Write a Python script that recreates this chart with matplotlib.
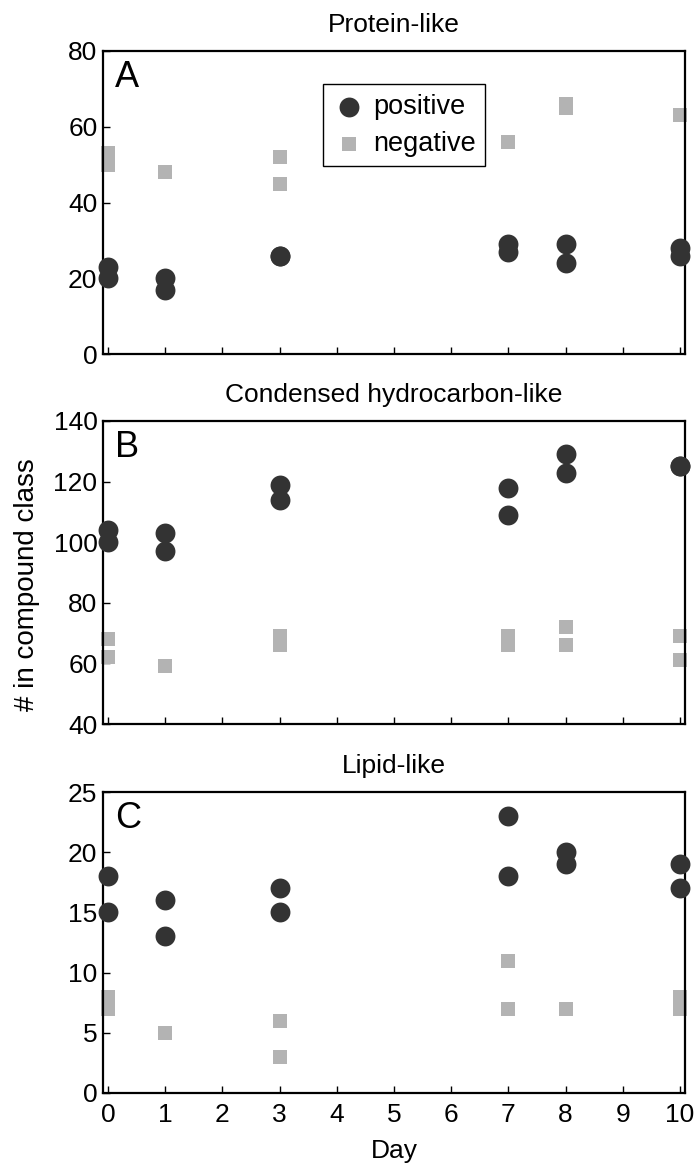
import matplotlib
matplotlib.use("Agg")
import matplotlib.pyplot as plt

plt.rcParams['font.family'] = ['Liberation Sans', 'DejaVu Sans']

days = [0, 1, 3, 7, 8, 10]

# Panel A: Protein-like (two replicates per day)
prot_pos_1 = [23, 20, 26, 29, 29, 28]
prot_pos_2 = [20, 17, 26, 27, 24, 26]
prot_neg_1 = [53, 48, 52, 56, 66, 63]
prot_neg_2 = [50, 48, 45, 56, 65, 63]

# Panel B: Condensed hydrocarbon-like
cond_pos_1 = [104, 103, 119, 118, 129, 125]
cond_pos_2 = [100, 97, 114, 109, 123, 125]
cond_neg_1 = [68, 59, 69, 69, 72, 69]
cond_neg_2 = [62, 59, 66, 66, 66, 61]

# Panel C: Lipid-like
lip_pos_1 = [18, 16, 17, 23, 20, 19]
lip_pos_2 = [15, 13, 15, 18, 19, 17]
lip_neg_1 = [8, 5, 6, 11, 7, 8]
lip_neg_2 = [7, 5, 3, 7, 7, 7]

titles = ["Protein-like", "Condensed hydrocarbon-like", "Lipid-like"]
letters = ["A", "B", "C"]
ylims = [(0, 80), (40, 140), (0, 25)]
yticks = [[0, 20, 40, 60, 80], [40, 60, 80, 100, 120, 140], [0, 5, 10, 15, 20, 25]]
xticks = list(range(0, 11))

panels = [
    (prot_pos_1, prot_pos_2, prot_neg_1, prot_neg_2),
    (cond_pos_1, cond_pos_2, cond_neg_1, cond_neg_2),
    (lip_pos_1, lip_pos_2, lip_neg_1, lip_neg_2),
]

fig = plt.figure(figsize=(7, 11.67), dpi=100)
H = 1167.0
W = 700.0
left_px, right_px = 103, 685
rows = [(51, 354), (421, 724), (792, 1093)]

pos_color = '#333333'
neg_color = '#b3b3b3'

axes = []
for i, (top, bot) in enumerate(rows):
    ax = fig.add_axes([left_px / W, 1 - bot / H, (right_px - left_px) / W, (bot - top) / H])
    axes.append(ax)
    p1, p2, n1, n2 = panels[i]
    ax.scatter(days, n1, marker='s', s=110, color=neg_color, linewidths=0, zorder=2, clip_on=False, label='negative')
    ax.scatter(days, n2, marker='s', s=110, color=neg_color, linewidths=0, zorder=2, clip_on=False)
    ax.scatter(days, p1, marker='o', s=205, color=pos_color, linewidths=0, zorder=3, clip_on=False, label='positive')
    ax.scatter(days, p2, marker='o', s=205, color=pos_color, linewidths=0, zorder=3, clip_on=False)
    ax.set_xlim(-0.09, 10.09)
    ax.set_ylim(*ylims[i])
    ax.set_yticks(yticks[i])
    ax.set_xticks(xticks)
    ax.tick_params(direction='in', length=5, width=1, labelsize=19, top=False, right=False)
    ax.tick_params(axis='x', pad=7)
    ax.tick_params(axis='y', pad=4)
    for sp in ax.spines.values():
        sp.set_linewidth(1.6)
    if i < 2:
        ax.set_xticklabels([])
    ax.set_title(titles[i], fontsize=19, pad=14)
    ax.text(0.02, 0.97, letters[i], transform=ax.transAxes, fontsize=26, va='top', ha='left')

handles, labels = axes[0].get_legend_handles_labels()
order = [labels.index('positive'), labels.index('negative')]
leg = axes[0].legend([handles[k] for k in order], [labels[k] for k in order],
                     loc='upper left', bbox_to_anchor=(0.378, 0.89), fontsize=19.5,
                     frameon=True, fancybox=False, edgecolor='black', framealpha=1,
                     handletextpad=0.3, borderpad=0.35, handlelength=1.2, labelspacing=0.4,
                     borderaxespad=0)
leg.get_frame().set_linewidth(1.0)

axes[2].set_xlabel("Day", fontsize=19, labelpad=9)
fig.text(27 / W, 1 - 585 / H, "# in compound class", rotation=90, fontsize=20, ha='center', va='center')

fig.savefig("out.png", dpi=100)
